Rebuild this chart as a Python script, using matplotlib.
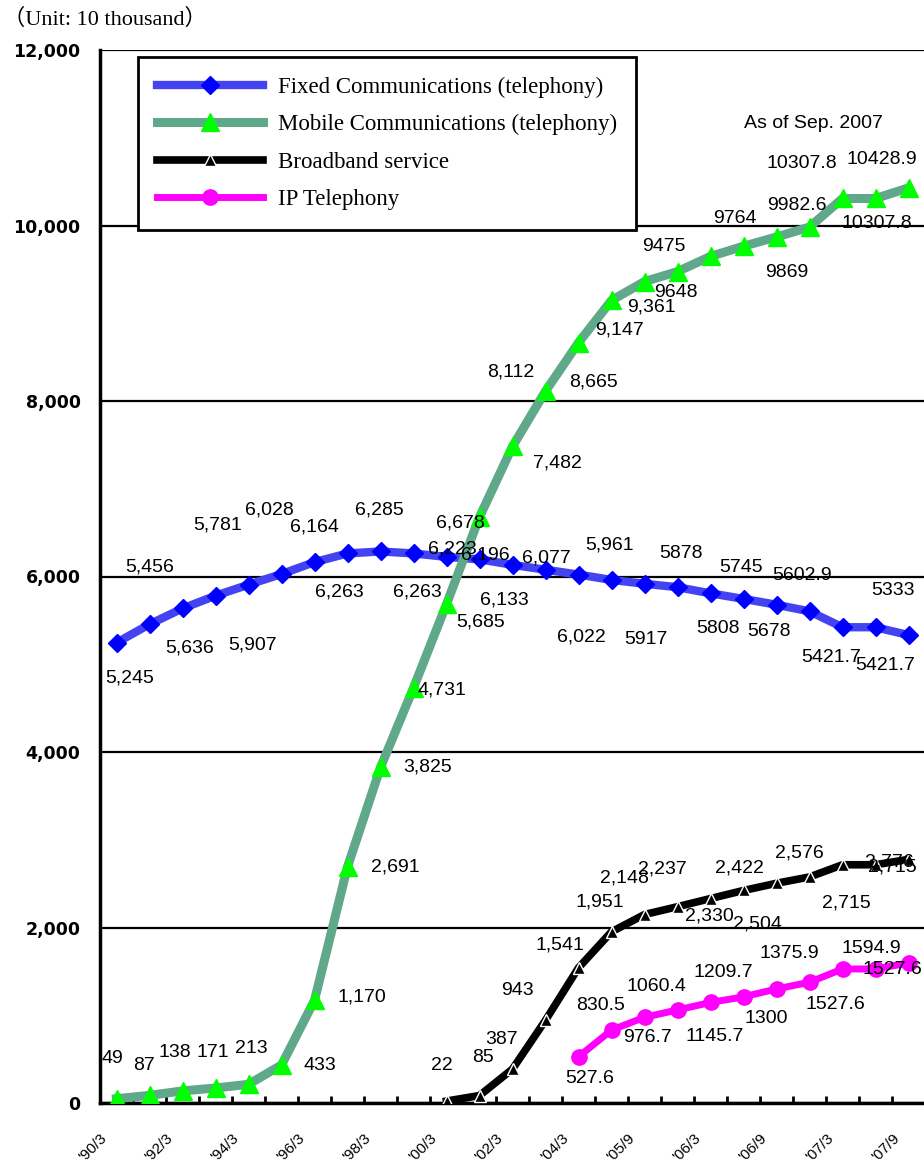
import numpy as np
import matplotlib
matplotlib.use("Agg")
import matplotlib.pyplot as plt

# ======================== data (unit: 10 thousand) ========================
periods = ["'90/3", "'91/3", "'92/3", "'93/3", "'94/3", "'95/3", "'96/3", "'97/3",
           "'98/3", "'99/3", "'00/3", "'01/3", "'02/3", "'03/3", "'04/3", "'05/3",
           "'05/9", "'05/12", "'06/3", "'06/6", "'06/9", "'06/12", "'07/3", "'07/6",
           "'07/9"]

fixed = [5245, 5456, 5636, 5781, 5907, 6028, 6164, 6263, 6285, 6263, 6223, 6196,
         6133, 6077, 6022, 5961, 5917, 5878, 5808, 5745, 5678, 5602.9, 5421.7,
         5421.7, 5333]
mobile = [49, 87, 138, 171, 213, 433, 1170, 2691, 3825, 4731, 5685, 6678, 7482,
          8112, 8665, 9147, 9361, 9475, 9648, 9764, 9869, 9982.6, 10307.8,
          10307.8, 10428.9]
broadband_start = 10
broadband = [22, 85, 387, 943, 1541, 1951, 2148, 2237, 2330, 2422, 2504, 2576,
             2715, 2715, 2776]
ip_start = 14
ip_phone = [527.6, 830.5, 976.7, 1060.4, 1145.7, 1209.7, 1300, 1375.9, 1527.6,
            1527.6, 1594.9]

# label offsets in pixels (dx right, dy down) for each point's value label
fixed_off = [(13, 35), (0, -57), (7, 40), (2, -71), (4, 60), (-12, -64), (0, -35),
             (-8, 39), (-1, -41), (4, 39), (6, -8), (6, -4), (-8, 35), (1, -12),
             (3, 62), (-2, -35), (1, 56), (3, -34), (7, 35), (-2, -31), (-8, 27),
             (-7, -36), (-11, 30), (10, 38), (-16, -45)]
mobile_off = [(-4, -40), (-5, -30), (-8, -38), (-3, -35), (3, -36), (38, 0),
              (47, -3), (48, 0), (47, 0), (28, 2), (34, 18), (-19, 6), (45, 17),
              (-35, -19), (15, 39), (8, 30), (7, 25), (-14, -25), (-35, 36),
              (-9, -28), (10, 36), (-13, -22), (-41, -35), (1, 25), (-27, -28)]
broadband_off = [(-5, -36), (3, -38), (-11, -30), (-28, -30), (-19, -23),
                 (-12, -30), (-20, -37), (-15, -38), (-1, 17), (-4, -22),
                 (-19, 41), (-10, -24), (4, 38), (17, 2), (-19, 3)]
ip_off = [(11, 22), (-11, -25), (3, 20), (-21, -23), (4, 34), (-20, -24),
          (-10, 30), (-20, -29), (-7, 36), (17, 1), (-37, -15)]


def fmt(values, comma_until):
    out = []
    for i, v in enumerate(values):
        if i < comma_until:
            out.append('{:,.0f}'.format(v))
        else:
            out.append('{:g}'.format(v))
    return out


plt.rcParams['font.family'] = ['Liberation Sans', 'DejaVu Sans']

fig = plt.figure(figsize=(9.24, 11.6), dpi=100)
ax = fig.add_axes([100 / 924, 57 / 1160, 825 / 924, 1053 / 1160])

x = np.arange(len(periods))
x_bb = x[broadband_start:broadband_start + len(broadband)]
x_ip = x[ip_start:ip_start + len(ip_phone)]

l_fixed, = ax.plot(x, fixed, color='#4343f2', lw=6, marker='D', ms=9,
                   mfc='#0000ff', mec='#0000ff', zorder=3,
                   label='Fixed Communications (telephony)')
l_mobile, = ax.plot(x, mobile, color='#5fa98a', lw=6.5, marker='^', ms=13,
                    mfc='#00ff00', mec='#00ff00', zorder=4,
                    label='Mobile Communications (telephony)')
l_bb, = ax.plot(x_bb, broadband, color='black', lw=5.5, marker='^', ms=8,
                mfc='black', mec='white', mew=1, zorder=5,
                label='Broadband service')
l_ip, = ax.plot(x_ip, ip_phone, color='#ff00ff', lw=5, marker='o', ms=11,
                mfc='#ff00ff', mec='#ff00ff', zorder=6, label='IP Telephony')

# value labels
for xs, vals, offs, comma in [(x, fixed, fixed_off, 16),
                              (x, mobile, mobile_off, 17),
                              (x_bb, broadband, broadband_off, 99),
                              (x_ip, ip_phone, ip_off, 0)]:
    for xi, v, txt, (dx, dy) in zip(xs, vals, fmt(vals, comma), offs):
        ax.annotate(txt, (xi, v), xytext=(dx, -dy), textcoords='offset pixels',
                    ha='center', va='center', fontsize=14, zorder=7)

# axes, grid and ticks
ax.set_xlim(-0.5, len(periods) - 0.5)
ax.set_ylim(0, 12000)
ax.set_yticks(np.arange(0, 12001, 2000))
ax.set_yticklabels(['{:,}'.format(v) for v in range(0, 12001, 2000)],
                   family='DejaVu Sans', fontweight='bold', fontsize=12.5)
ax.tick_params(axis='y', length=0, pad=14)
ax.yaxis.grid(True, color='black', lw=1.6)
ax.set_axisbelow(True)

bounds = np.arange(-0.5, len(periods), 1.0)
ax.set_xticks(bounds)
xlabels = [periods[i] if i % 2 == 0 and i < len(periods) else '' for i in range(len(bounds))]
ax.set_xticklabels(xlabels, rotation=45, ha='right', va='top',
                   rotation_mode='anchor', fontsize=11)
ax.tick_params(axis='x', direction='in', length=5, width=2, pad=20)

for s in ['top', 'right']:
    ax.spines[s].set_visible(False)
ax.spines['left'].set_linewidth(2.5)
ax.spines['bottom'].set_linewidth(2.5)

leg = ax.legend(handles=[l_fixed, l_mobile, l_bb, l_ip], loc='upper left',
                bbox_to_anchor=(138 / 924, 1 - 57 / 1160),
                bbox_transform=fig.transFigure, borderaxespad=0,
                prop={'family': 'Liberation Serif', 'size': 16.5},
                handlelength=4.6, handletextpad=0.65, labelspacing=0.72,
                borderpad=0.85, numpoints=1, fancybox=False, framealpha=1)
leg.get_frame().set_edgecolor('black')
leg.get_frame().set_linewidth(2)
leg.set_zorder(10)

fig.text(813 / 924, 1 - 123 / 1160, 'As of Sep. 2007', ha='center', va='center',
         fontsize=14)
fig.text(3 / 924, 1 - 19 / 1160, '（Unit: 10 thousand）', ha='left', va='center',
         fontsize=16, family=['Liberation Serif', 'Noto Sans CJK JP'])

fig.savefig('out.png', dpi=100)
